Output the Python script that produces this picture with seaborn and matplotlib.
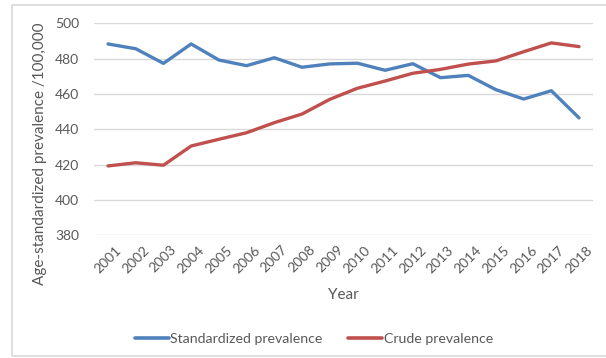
import matplotlib
matplotlib.use("Agg")
import matplotlib.pyplot as plt
import seaborn as sns
import pandas as pd
from matplotlib.patches import Rectangle
from matplotlib.lines import Line2D
from matplotlib.transforms import ScaledTranslation

years = [str(y) for y in range(2001, 2019)]
standardized = [488.4, 485.7, 477.4, 488.4, 479.3, 476.1, 480.6, 475.2, 477.1,
                477.5, 473.5, 477.2, 469.3, 470.6, 462.5, 457.2, 461.9, 446.5]
crude = [419.3, 421.1, 419.7, 430.6, 434.4, 438.1, 443.8, 448.7, 457.0,
         463.3, 467.4, 471.8, 474.0, 477.0, 478.8, 484.0, 489.0, 486.9]
series_names = ["Standardized prevalence", "Crude prevalence"]
y_ticks = [380, 400, 420, 440, 460, 480, 500]

sns.set_theme(style="white")
plt.rcParams["font.family"] = ["Lato", "DejaVu Sans"]

blue = "#4F81BD"
red = "#C0504D"
text_col = "#595959"

df = pd.DataFrame({
    "Year": years * 2,
    "idx": list(range(len(years))) * 2,
    "value": standardized + crude,
    "series": [series_names[0]] * len(years) + [series_names[1]] * len(years),
})

fig = plt.figure(figsize=(6.06, 3.58), dpi=100)
fig.patch.set_facecolor("white")
fig.patches.append(Rectangle((12 / 606, 2 / 358), 1.0, 351 / 358,
                             transform=fig.transFigure, fill=False,
                             edgecolor="#D9D9D9", linewidth=1.2))

ax = fig.add_axes([0.1554, 0.3427, 0.823, 0.5917])
sns.lineplot(data=df, x="idx", y="value", hue="series",
             palette=[blue, red], linewidth=2.4, ax=ax, legend=False)

ax.set_xlim(-0.5, len(years) - 0.5)
ax.set_ylim(380, 500)
ax.set_yticks(y_ticks)
ax.set_xticks(range(len(years)))
ax.set_xticklabels(years, rotation=45, ha="right", rotation_mode="anchor")
ax.tick_params(axis="both", length=0, labelsize=10, labelcolor=text_col)
ax.tick_params(axis="y", pad=11)
ax.tick_params(axis="x", pad=6)
for lab in ax.get_xticklabels():
    lab.set_transform(lab.get_transform() +
                      ScaledTranslation(7 / 100, 0, fig.dpi_scale_trans))

ax.grid(axis="y", color="#D9D9D9", linewidth=1)
ax.set_axisbelow(True)
for s in ax.spines.values():
    s.set_visible(False)

ax.set_xlabel("")
ax.set_ylabel("")
fig.text(40 / 606, 1 - 154 / 358, "Age-standardized prevalence /100,000",
         rotation=90, ha="center", va="center", fontsize=11, color=text_col)
fig.text(343 / 606, 1 - 295 / 358, "Year", ha="center", va="center",
         fontsize=11, color=text_col)

handles = [Line2D([], [], color=blue, linewidth=2.6),
           Line2D([], [], color=red, linewidth=2.6)]
fig.legend(handles, series_names, loc="center", bbox_to_anchor=(314 / 606, 1 - 339 / 358),
           ncol=2, frameon=False, fontsize=10.2, labelcolor=text_col,
           handlelength=2.4, handletextpad=0.1, columnspacing=1.8)

fig.savefig("out.png", dpi=100)
